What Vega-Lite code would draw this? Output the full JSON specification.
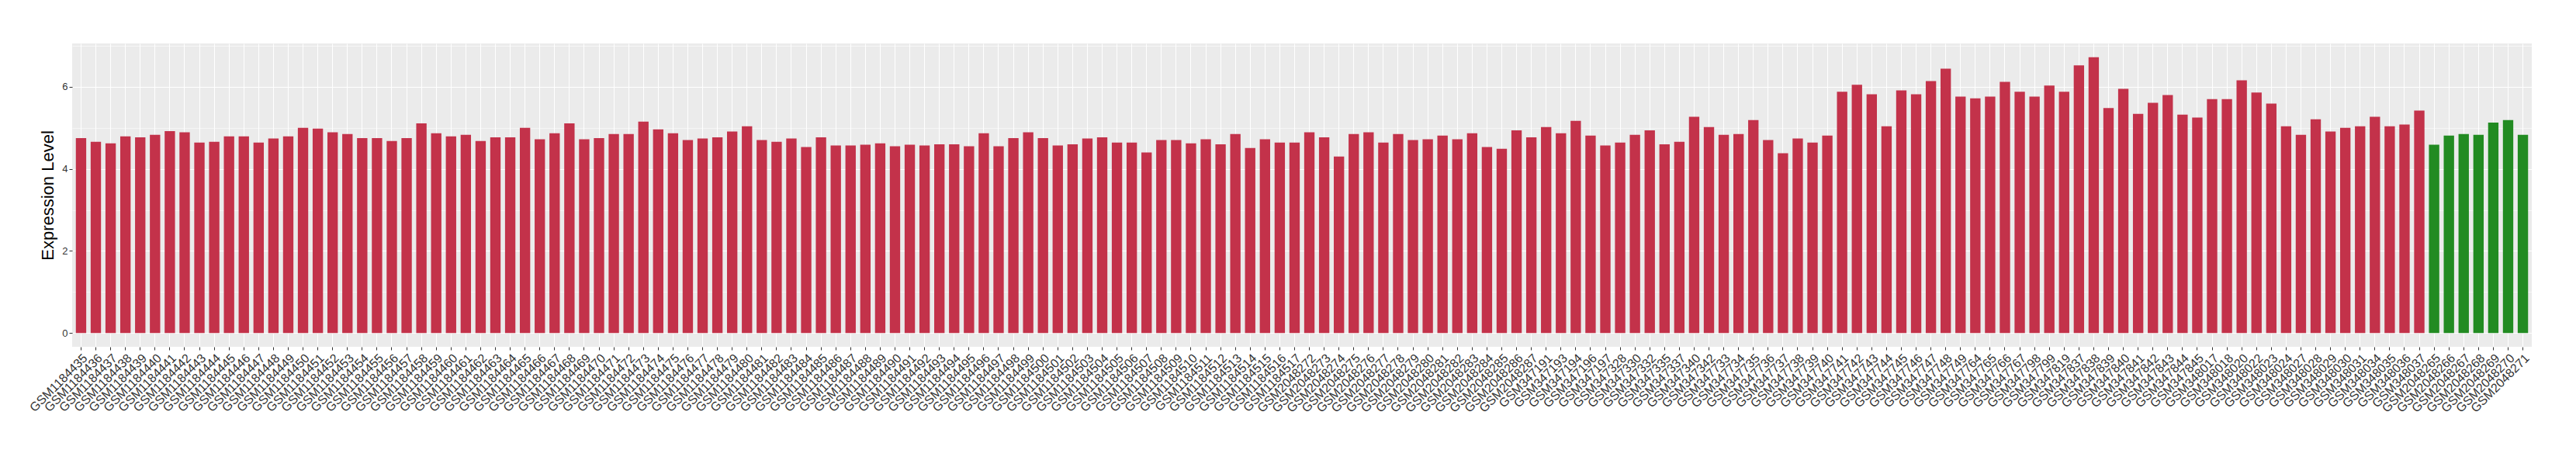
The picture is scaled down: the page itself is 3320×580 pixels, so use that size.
{
  "$schema": "https://vega.github.io/schema/vega-lite/v6.json",
  "autosize": {"type": "none"},
  "padding": {"left": 93, "top": 56, "right": 57, "bottom": 133},
  "width": 3170,
  "height": 391,
  "background": "white",
  "config": {
    "view": {"fill": "#EBEBEB", "stroke": null},
    "font": "Liberation Sans"
  },
  "data": {"values": [
    {"s":"GSM1184435","v":4.75,"g":"a"},{"s":"GSM1184436","v":4.66,"g":"a"},{"s":"GSM1184437","v":4.62,"g":"a"},{"s":"GSM1184438","v":4.79,"g":"a"},{"s":"GSM1184439","v":4.77,"g":"a"},
    {"s":"GSM1184440","v":4.83,"g":"a"},{"s":"GSM1184441","v":4.92,"g":"a"},{"s":"GSM1184442","v":4.89,"g":"a"},{"s":"GSM1184443","v":4.64,"g":"a"},{"s":"GSM1184444","v":4.66,"g":"a"},
    {"s":"GSM1184445","v":4.79,"g":"a"},{"s":"GSM1184446","v":4.79,"g":"a"},{"s":"GSM1184447","v":4.64,"g":"a"},{"s":"GSM1184448","v":4.74,"g":"a"},{"s":"GSM1184449","v":4.79,"g":"a"},
    {"s":"GSM1184450","v":5.00,"g":"a"},{"s":"GSM1184451","v":4.98,"g":"a"},{"s":"GSM1184452","v":4.89,"g":"a"},{"s":"GSM1184453","v":4.85,"g":"a"},{"s":"GSM1184454","v":4.75,"g":"a"},
    {"s":"GSM1184455","v":4.75,"g":"a"},{"s":"GSM1184456","v":4.68,"g":"a"},{"s":"GSM1184457","v":4.75,"g":"a"},{"s":"GSM1184458","v":5.11,"g":"a"},{"s":"GSM1184459","v":4.87,"g":"a"},
    {"s":"GSM1184460","v":4.79,"g":"a"},{"s":"GSM1184461","v":4.83,"g":"a"},{"s":"GSM1184462","v":4.68,"g":"a"},{"s":"GSM1184463","v":4.77,"g":"a"},{"s":"GSM1184464","v":4.77,"g":"a"},
    {"s":"GSM1184465","v":5.00,"g":"a"},{"s":"GSM1184466","v":4.72,"g":"a"},{"s":"GSM1184467","v":4.87,"g":"a"},{"s":"GSM1184468","v":5.11,"g":"a"},{"s":"GSM1184469","v":4.72,"g":"a"},
    {"s":"GSM1184470","v":4.75,"g":"a"},{"s":"GSM1184471","v":4.85,"g":"a"},{"s":"GSM1184472","v":4.85,"g":"a"},{"s":"GSM1184473","v":5.15,"g":"a"},{"s":"GSM1184474","v":4.96,"g":"a"},
    {"s":"GSM1184475","v":4.87,"g":"a"},{"s":"GSM1184476","v":4.70,"g":"a"},{"s":"GSM1184477","v":4.74,"g":"a"},{"s":"GSM1184478","v":4.77,"g":"a"},{"s":"GSM1184479","v":4.91,"g":"a"},
    {"s":"GSM1184480","v":5.04,"g":"a"},{"s":"GSM1184481","v":4.70,"g":"a"},{"s":"GSM1184482","v":4.66,"g":"a"},{"s":"GSM1184483","v":4.74,"g":"a"},{"s":"GSM1184484","v":4.53,"g":"a"},
    {"s":"GSM1184485","v":4.77,"g":"a"},{"s":"GSM1184486","v":4.57,"g":"a"},{"s":"GSM1184487","v":4.57,"g":"a"},{"s":"GSM1184488","v":4.59,"g":"a"},{"s":"GSM1184489","v":4.62,"g":"a"},
    {"s":"GSM1184490","v":4.55,"g":"a"},{"s":"GSM1184491","v":4.59,"g":"a"},{"s":"GSM1184492","v":4.57,"g":"a"},{"s":"GSM1184493","v":4.60,"g":"a"},{"s":"GSM1184494","v":4.60,"g":"a"},
    {"s":"GSM1184495","v":4.55,"g":"a"},{"s":"GSM1184496","v":4.87,"g":"a"},{"s":"GSM1184497","v":4.55,"g":"a"},{"s":"GSM1184498","v":4.75,"g":"a"},{"s":"GSM1184499","v":4.89,"g":"a"},
    {"s":"GSM1184500","v":4.75,"g":"a"},{"s":"GSM1184501","v":4.57,"g":"a"},{"s":"GSM1184502","v":4.60,"g":"a"},{"s":"GSM1184503","v":4.74,"g":"a"},{"s":"GSM1184504","v":4.77,"g":"a"},
    {"s":"GSM1184505","v":4.64,"g":"a"},{"s":"GSM1184506","v":4.64,"g":"a"},{"s":"GSM1184507","v":4.40,"g":"a"},{"s":"GSM1184508","v":4.70,"g":"a"},{"s":"GSM1184509","v":4.70,"g":"a"},
    {"s":"GSM1184510","v":4.62,"g":"a"},{"s":"GSM1184511","v":4.72,"g":"a"},{"s":"GSM1184512","v":4.60,"g":"a"},{"s":"GSM1184513","v":4.85,"g":"a"},{"s":"GSM1184514","v":4.51,"g":"a"},
    {"s":"GSM1184515","v":4.72,"g":"a"},{"s":"GSM1184516","v":4.64,"g":"a"},{"s":"GSM1184517","v":4.64,"g":"a"},
    {"s":"GSM2048272","v":4.89,"g":"a"},{"s":"GSM2048273","v":4.77,"g":"a"},{"s":"GSM2048274","v":4.30,"g":"a"},{"s":"GSM2048275","v":4.85,"g":"a"},{"s":"GSM2048276","v":4.89,"g":"a"},
    {"s":"GSM2048277","v":4.64,"g":"a"},{"s":"GSM2048278","v":4.85,"g":"a"},{"s":"GSM2048279","v":4.70,"g":"a"},{"s":"GSM2048280","v":4.72,"g":"a"},{"s":"GSM2048281","v":4.81,"g":"a"},
    {"s":"GSM2048282","v":4.72,"g":"a"},{"s":"GSM2048283","v":4.87,"g":"a"},{"s":"GSM2048284","v":4.53,"g":"a"},{"s":"GSM2048285","v":4.49,"g":"a"},{"s":"GSM2048286","v":4.94,"g":"a"},
    {"s":"GSM2048287","v":4.77,"g":"a"},
    {"s":"GSM347191","v":5.02,"g":"a"},{"s":"GSM347193","v":4.87,"g":"a"},{"s":"GSM347194","v":5.17,"g":"a"},{"s":"GSM347196","v":4.81,"g":"a"},{"s":"GSM347197","v":4.57,"g":"a"},
    {"s":"GSM347328","v":4.64,"g":"a"},{"s":"GSM347330","v":4.83,"g":"a"},{"s":"GSM347332","v":4.94,"g":"a"},{"s":"GSM347335","v":4.60,"g":"a"},{"s":"GSM347337","v":4.66,"g":"a"},
    {"s":"GSM347340","v":5.27,"g":"a"},{"s":"GSM347342","v":5.02,"g":"a"},
    {"s":"GSM347733","v":4.83,"g":"a"},{"s":"GSM347734","v":4.85,"g":"a"},{"s":"GSM347735","v":5.19,"g":"a"},{"s":"GSM347736","v":4.70,"g":"a"},{"s":"GSM347737","v":4.38,"g":"a"},
    {"s":"GSM347738","v":4.74,"g":"a"},{"s":"GSM347739","v":4.64,"g":"a"},{"s":"GSM347740","v":4.81,"g":"a"},{"s":"GSM347741","v":5.88,"g":"a"},{"s":"GSM347742","v":6.05,"g":"a"},
    {"s":"GSM347743","v":5.82,"g":"a"},{"s":"GSM347744","v":5.04,"g":"a"},{"s":"GSM347745","v":5.91,"g":"a"},{"s":"GSM347746","v":5.82,"g":"a"},{"s":"GSM347747","v":6.14,"g":"a"},
    {"s":"GSM347748","v":6.44,"g":"a"},{"s":"GSM347749","v":5.76,"g":"a"},
    {"s":"GSM347764","v":5.72,"g":"a"},{"s":"GSM347765","v":5.76,"g":"a"},{"s":"GSM347766","v":6.12,"g":"a"},{"s":"GSM347767","v":5.88,"g":"a"},
    {"s":"GSM347798","v":5.76,"g":"a"},{"s":"GSM347799","v":6.03,"g":"a"},{"s":"GSM347819","v":5.88,"g":"a"},
    {"s":"GSM347837","v":6.52,"g":"a"},{"s":"GSM347838","v":6.72,"g":"a"},{"s":"GSM347839","v":5.48,"g":"a"},{"s":"GSM347840","v":5.95,"g":"a"},{"s":"GSM347841","v":5.34,"g":"a"},
    {"s":"GSM347842","v":5.61,"g":"a"},{"s":"GSM347843","v":5.80,"g":"a"},{"s":"GSM347844","v":5.32,"g":"a"},{"s":"GSM347845","v":5.25,"g":"a"},
    {"s":"GSM348017","v":5.70,"g":"a"},{"s":"GSM348018","v":5.70,"g":"a"},{"s":"GSM348020","v":6.16,"g":"a"},{"s":"GSM348022","v":5.86,"g":"a"},{"s":"GSM348023","v":5.59,"g":"a"},
    {"s":"GSM348024","v":5.04,"g":"a"},{"s":"GSM348027","v":4.83,"g":"a"},{"s":"GSM348028","v":5.21,"g":"a"},{"s":"GSM348029","v":4.91,"g":"a"},{"s":"GSM348030","v":5.00,"g":"a"},
    {"s":"GSM348031","v":5.04,"g":"a"},{"s":"GSM348034","v":5.27,"g":"a"},{"s":"GSM348035","v":5.04,"g":"a"},{"s":"GSM348036","v":5.08,"g":"a"},{"s":"GSM348037","v":5.42,"g":"a"},
    {"s":"GSM2048265","v":4.59,"g":"b"},{"s":"GSM2048266","v":4.81,"g":"b"},{"s":"GSM2048267","v":4.85,"g":"b"},{"s":"GSM2048268","v":4.83,"g":"b"},{"s":"GSM2048269","v":5.13,"g":"b"},
    {"s":"GSM2048270","v":5.19,"g":"b"},{"s":"GSM2048271","v":4.83,"g":"b"}
  ]},
  "mark": {"type": "bar"},
  "encoding": {
    "x": {
      "field": "s", "type": "nominal", "sort": null,
      "scale": {"paddingInner": 0.3, "paddingOuter": 0.25},
      "axis": {
        "title": null, "domain": false, "grid": true, "gridColor": "white", "gridWidth": 1.07,
        "bandPosition": 0.5, "tickColor": "#333333", "tickSize": 4, "tickWidth": 1,
        "labelAngle": -45, "labelAlign": "right", "labelBaseline": "top", "labelPadding": 2,
        "labelOverlap": false, "labelFontSize": 16, "labelColor": "#333333", "labelFont": "Liberation Sans"
      }
    },
    "y": {
      "field": "v", "type": "quantitative",
      "scale": {"domain": [-0.336, 7.056], "nice": false, "zero": false},
      "axis": {
        "title": "Expression Level", "titleFontSize": 22, "titleFontWeight": "normal", "titleColor": "black",
        "titleFont": "Liberation Sans", "titlePadding": 6,
        "values": [0, 1, 2, 3, 4, 5, 6, 7],
        "labelExpr": "datum.value % 2 === 0 ? datum.label : ''",
        "domain": false, "grid": true, "gridColor": "white",
        "gridWidth": {"condition": {"test": "datum.value % 2 !== 0", "value": 0.55}, "value": 1.1},
        "tickOpacity": {"condition": {"test": "datum.value % 2 !== 0", "value": 0}, "value": 1},
        "tickColor": "#333333", "tickSize": 4, "tickWidth": 1, "labelPadding": 2,
        "labelFontSize": 13, "labelColor": "#333333", "labelFont": "Liberation Sans"
      }
    },
    "color": {
      "field": "g", "type": "nominal",
      "scale": {"domain": ["a", "b"], "range": ["#C3324A", "#228B22"]},
      "legend": null
    }
  }
}
